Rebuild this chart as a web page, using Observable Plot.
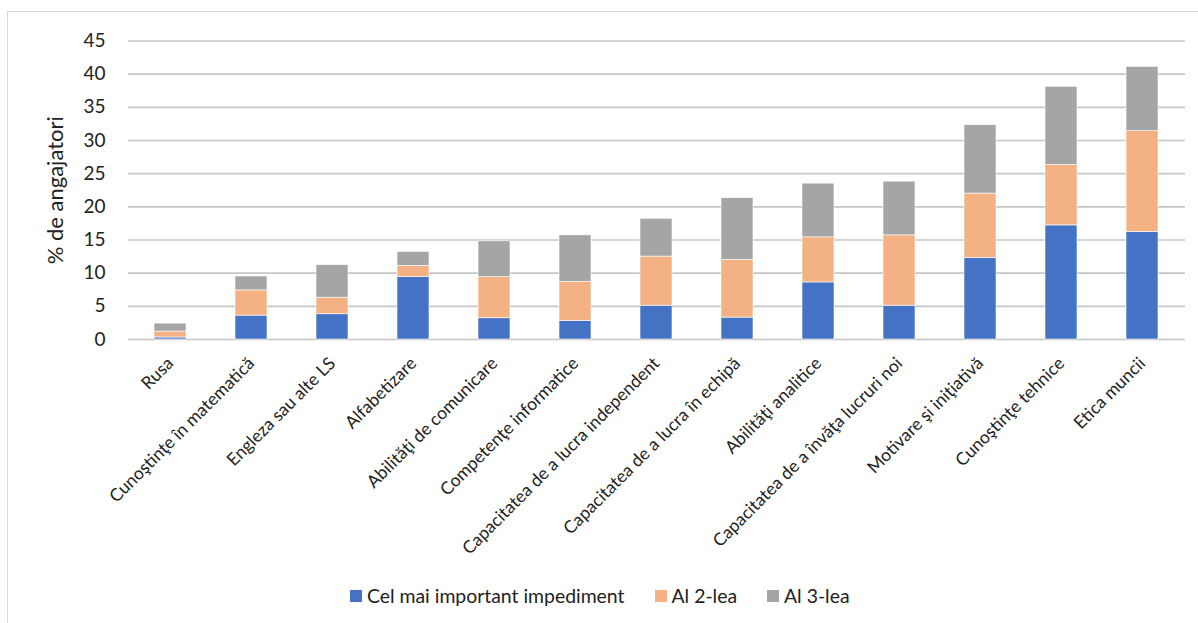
<!DOCTYPE html>
<html>
<head>
<meta charset="utf-8">
<script src="https://cdn.jsdelivr.net/npm/d3@7"></script>
<script src="https://cdn.jsdelivr.net/npm/@observablehq/plot@0.6"></script>
<style>
  html, body { margin: 0; padding: 0; background: #fff; }
  body { width: 1198px; height: 623px; position: relative; overflow: hidden; font-family: Lato, "Open Sans", sans-serif; }
  #frame { position: absolute; left: 7px; top: 11px; width: 1300px; height: 700px; border-left: 1.5px solid #d9d9d9; border-top: 1.5px solid #d9d9d9; }
  #chart { position: absolute; left: 0; top: 0; }
  #legend { position: absolute; left: 350px; top: 584px; display: flex; align-items: center; font-size: 19.4px; color: #222; white-space: nowrap; }
  #legend .item { display: flex; align-items: center; margin-right: 30px; }
  #legend .sw { width: 12px; height: 12px; margin-right: 5px; }
</style>
</head>
<body>
<div id="frame"></div>
<div id="chart"></div>
<div id="legend"></div>
<script>
// Skills ranked as hiring impediments (% of employers)
const categories = [
  "Rusa",
  "Cunoştinţe în matematică",
  "Engleza sau alte LS",
  "Alfabetizare",
  "Abilităţi de comunicare",
  "Competenţe informatice",
  "Capacitatea de a lucra independent",
  "Capacitatea de a lucra în echipă",
  "Abilităţi analitice",
  "Capacitatea de a învăţa lucruri noi",
  "Motivare şi iniţiativă",
  "Cunoştinţe tehnice",
  "Etica muncii"
];
const seriesNames = ["Cel mai important impediment", "Al 2-lea", "Al 3-lea"];
const seriesColors = ["#4472C4", "#F4B183", "#A5A5A5"];
const first  = [0.3, 3.6, 3.8, 9.4, 3.2, 2.8, 5.1, 3.3, 8.6, 5.1, 12.3, 17.2, 16.2];
const second = [0.9, 3.8, 2.5, 1.7, 6.2, 5.9, 7.4, 8.7, 6.8, 10.6, 9.7, 9.1, 15.2];
const third  = [1.2, 2.1, 4.9, 2.1, 5.4, 7.0, 5.7, 9.3, 8.1, 8.1, 10.3, 11.8, 9.7];
const yTicks = [0, 5, 10, 15, 20, 25, 30, 35, 40, 45];

const rows = [];
[first, second, third].forEach((vals, s) => {
  vals.forEach((v, i) => rows.push({cat: categories[i], series: seriesNames[s], value: v}));
});

const chart = Plot.plot({
  width: 1198,
  height: 575,
  marginLeft: 128,
  marginRight: 13,
  marginTop: 40.5,
  marginBottom: 236,
  style: {fontFamily: "Lato, 'Open Sans', sans-serif", color: "#222", background: "transparent"},
  x: {domain: categories, paddingInner: 0.6, paddingOuter: 0.3, label: null},
  y: {domain: [0, 45], ticks: yTicks},
  color: {domain: seriesNames, range: seriesColors},
  marks: [
    Plot.gridY(yTicks, {stroke: "#c6c6c6", strokeOpacity: 1, strokeWidth: 1.7}),
    Plot.axisY(yTicks, {
      tickSize: 0, tickPadding: 23, fontSize: 19,
      label: "% de angajatori", labelAnchor: "center", labelArrow: "none", labelOffset: 81
    }),
    Plot.axisX({tickSize: 0, tickPadding: 21, tickRotate: -45, fontSize: 17.5, label: null}),
    Plot.barY(rows, {x: "cat", y: "value", fill: "series", stroke: "white", strokeWidth: 0.6})
  ]
});
d3.select(chart).selectAll("[aria-label='y-axis label'] text").style("font-size", "22px");
document.getElementById("chart").appendChild(chart);

const legend = d3.select("#legend");
seriesNames.forEach((name, i) => {
  const item = legend.append("div").attr("class", "item");
  item.append("div").attr("class", "sw").style("background", seriesColors[i]);
  item.append("span").text(name);
});
</script>
</body>
</html>
